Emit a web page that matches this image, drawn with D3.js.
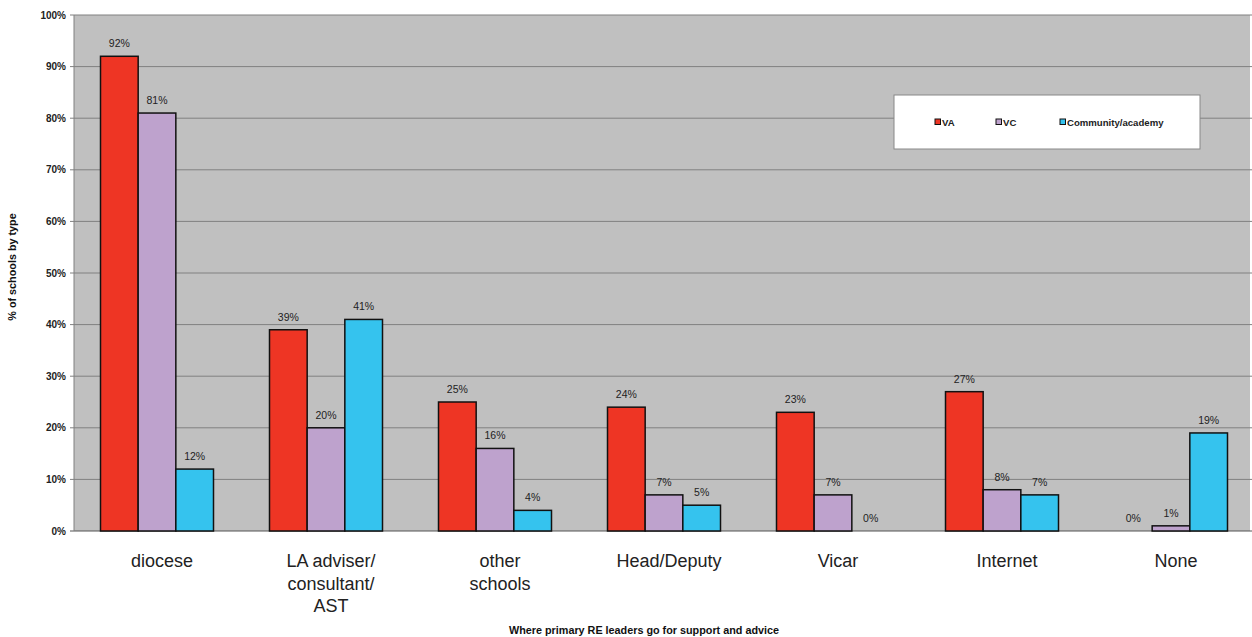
<!DOCTYPE html>
<html>
<head>
<meta charset="utf-8">
<script src="https://cdn.jsdelivr.net/npm/d3@7"></script>
<style>
  body { margin: 0; background: #fff; }
  svg { display: block; font-family: "Liberation Sans", Arial, sans-serif; }
</style>
</head>
<body>
<script>
// --- Data ---
const categories = [
  ["diocese"],
  ["LA adviser/", "consultant/", "AST"],
  ["other", "schools"],
  ["Head/Deputy"],
  ["Vicar"],
  ["Internet"],
  ["None"]
];
const seriesNames = ["VA", "VC", "Community/academy"];
const vaValues = [92, 39, 25, 24, 23, 27, 0];
const vcValues = [81, 20, 16, 7, 7, 8, 1];
const communityValues = [12, 41, 4, 5, 0, 7, 19];
const yTicks = [0, 10, 20, 30, 40, 50, 60, 70, 80, 90, 100];

const colors = ["#ee3524", "#bea2cd", "#35c3ee"];
const series = [vaValues, vcValues, communityValues];

// --- Layout ---
const width = 1252, height = 637;
const plot = { left: 74, right: 1250, top: 15, bottom: 531 };

const svg = d3.select("body").append("svg")
  .attr("width", width)
  .attr("height", height);

const x0 = d3.scaleBand()
  .domain(d3.range(categories.length))
  .range([plot.left - 1.5, plot.left - 1.5 + 169 * categories.length])
  .padding(0);

const x1 = d3.scaleBand()
  .domain(d3.range(seriesNames.length))
  .range([28, 141])
  .padding(0);

const y = d3.scaleLinear().domain([0, 100]).range([plot.bottom, plot.top]);

// plot background
svg.append("rect")
  .attr("x", plot.left)
  .attr("y", plot.top)
  .attr("width", plot.right - plot.left)
  .attr("height", plot.bottom - plot.top)
  .attr("fill", "#c0c0c0");

// gridlines
svg.append("g")
  .selectAll("line")
  .data(yTicks)
  .join("line")
  .attr("x1", plot.left - 4)
  .attr("x2", plot.right + 2)
  .attr("y1", d => y(d))
  .attr("y2", d => y(d))
  .attr("stroke", d => d === 0 ? "#555" : "#808080")
  .attr("stroke-width", 1);

// y axis line
svg.append("line")
  .attr("x1", plot.left).attr("x2", plot.left)
  .attr("y1", plot.top).attr("y2", plot.bottom)
  .attr("stroke", "#808080");

// y tick labels
svg.append("g")
  .selectAll("text")
  .data(yTicks)
  .join("text")
  .attr("x", plot.left - 8)
  .attr("y", d => y(d) + 3.5)
  .attr("text-anchor", "end")
  .attr("font-size", 10)
  .attr("font-weight", "bold")
  .attr("fill", "#222")
  .text(d => d + "%");

// bars
const groups = svg.append("g")
  .selectAll("g")
  .data(categories.map((c, i) => i))
  .join("g")
  .attr("transform", i => `translate(${x0(i)},0)`);

groups.selectAll("rect")
  .data(i => series.map((s, k) => ({ k, v: s[i] })))
  .join("rect")
  .filter(d => d.v > 0)
  .attr("x", d => x1(d.k))
  .attr("y", d => y(d.v))
  .attr("width", x1.bandwidth())
  .attr("height", d => y(0) - y(d.v))
  .attr("fill", d => colors[d.k])
  .attr("stroke", "#111")
  .attr("stroke-width", 1.5);

groups.selectAll("text")
  .data(i => series.map((s, k) => ({ k, v: s[i] })))
  .join("text")
  .attr("x", d => x1(d.k) + x1.bandwidth() / 2)
  .attr("y", d => y(d.v) - 9)
  .attr("text-anchor", "middle")
  .attr("font-size", 10.5)
  .attr("fill", "#222")
  .text(d => d.v + "%");

// category labels (sit a little right of the group centre, as in the original)
svg.append("g")
  .selectAll("text")
  .data(categories)
  .join("text")
  .attr("x", (d, i) => x0(i) + 89.5)
  .attr("y", 567)
  .attr("text-anchor", "middle")
  .attr("font-size", 18)
  .attr("fill", "#222")
  .selectAll("tspan")
  .data(d => d)
  .join("tspan")
  .attr("x", function () { return this.parentNode.getAttribute("x"); })
  .attr("dy", (d, j) => j === 0 ? 0 : 22.5)
  .text(d => d);

// axis titles
svg.append("text")
  .attr("transform", "translate(16,267) rotate(-90)")
  .attr("text-anchor", "middle")
  .attr("font-size", 10.8)
  .attr("font-weight", "bold")
  .attr("fill", "#111")
  .text("% of schools by type");

svg.append("text")
  .attr("x", 644)
  .attr("y", 634)
  .attr("text-anchor", "middle")
  .attr("font-size", 10.8)
  .attr("font-weight", "bold")
  .attr("fill", "#111")
  .text("Where primary RE leaders go for support and advice");

// legend
const legend = svg.append("g");
legend.append("rect")
  .attr("x", 894).attr("y", 95)
  .attr("width", 306).attr("height", 54)
  .attr("fill", "#fff")
  .attr("stroke", "#888");

const legendX = [935, 996, 1060];
const items = legend.selectAll("g")
  .data(seriesNames)
  .join("g")
  .attr("transform", (d, i) => `translate(${legendX[i]},119)`);
items.append("rect")
  .attr("width", 5.5).attr("height", 5.5)
  .attr("fill", (d, i) => colors[i])
  .attr("stroke", "#111")
  .attr("stroke-width", 1);
items.append("text")
  .attr("x", 7)
  .attr("y", 6.5)
  .attr("font-size", 9.6)
  .attr("font-weight", "bold")
  .attr("fill", "#222")
  .text(d => d);
</script>
</body>
</html>
